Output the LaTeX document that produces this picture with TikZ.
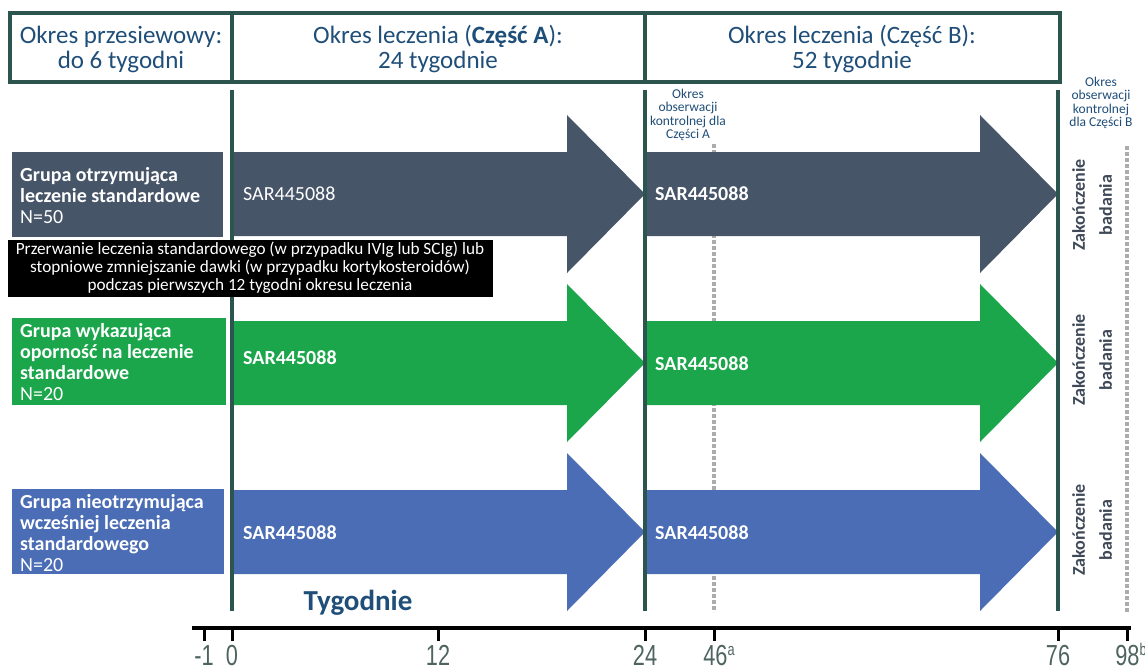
\documentclass[tikz,border=0pt]{standalone}
\usepackage{fontspec}
\setmainfont{Carlito}
\newfontfamily\axisfont[FakeStretch=0.75]{Liberation Sans}
\definecolor{frame}{HTML}{2D5550}
\definecolor{hdtext}{HTML}{1F4E79}
\definecolor{slate}{HTML}{475569}
\definecolor{grn}{HTML}{1BA64B}
\definecolor{blu}{HTML}{4A6DB5}
\definecolor{axtext}{HTML}{4F6460}
\definecolor{endtext}{HTML}{3E4857}
\newcommand{\supnote}[1]{\raisebox{10pt}{\fontsize{17}{17}\selectfont #1}}
\tikzstyle{head} = [text=hdtext, align=center, font=\fontsize{25}{25}\selectfont]
\tikzstyle{grp} = [text=white, align=left, anchor=west, inner sep=0pt, font=\fontsize{20}{21}\selectfont]
\tikzstyle{drug} = [text=white, anchor=west, inner sep=0pt, font=\fontsize{20}{21}\selectfont]
\tikzstyle{obs} = [text=hdtext, align=center, fill=white, inner sep=1pt, font=\fontsize{13.5}{13.5}\selectfont]
\tikzstyle{fin} = [text=endtext, align=center, rotate=90, font=\bfseries\fontsize{18}{27}\selectfont]
\tikzstyle{tick} = [text=axtext, anchor=base, inner sep=0pt, font=\axisfont\fontsize{29}{29}\selectfont]
\tikzstyle{vline} = [frame, line width=4pt]
\tikzstyle{fup} = [gray!65, line width=4pt, dash pattern=on 4pt off 2pt]

\begin{document}
\begin{tikzpicture}[x=1pt, y=-1pt]
  \useasboundingbox (0,0) rectangle (1145,669);

  % header
  \draw [vline] (10,13) rectangle (1060,82);
  \draw [vline] (232,13) -- (232,82);
  \draw [vline] (645,13) -- (645,82);
  \node (h0) at (121,49) [head] {Okres przesiewowy:\\do 6 tygodni};
  \node (h1) at (438,49) [head] {Okres leczenia (\textbf{Część A}):\\24 tygodnie};
  \node (h2) at (852,49) [head] {Okres leczenia (Część B):\\52 tygodnie};

  % follow-up lines
  \draw [fup] (714,138) -- (714,612);
  \draw [fup] (1127,146) -- (1127,612);

  % arrows
  \fill [slate] (232,152) -- (567,152) -- (567,115) -- (645,194) -- (567,273) -- (567,236) -- (232,236) -- cycle;
  \fill [slate] (645,152) -- (980,152) -- (980,115) -- (1058,194) -- (980,273) -- (980,236) -- (645,236) -- cycle;
  \fill [grn] (232,321) -- (567,321) -- (567,284) -- (645,363) -- (567,442) -- (567,405) -- (232,405) -- cycle;
  \fill [grn] (645,321) -- (980,321) -- (980,284) -- (1058,363) -- (980,442) -- (980,405) -- (645,405) -- cycle;
  \fill [blu] (232,490) -- (567,490) -- (567,453) -- (645,532) -- (567,611) -- (567,574) -- (232,574) -- cycle;
  \fill [blu] (645,490) -- (980,490) -- (980,453) -- (1058,532) -- (980,611) -- (980,574) -- (645,574) -- cycle;

  \draw [vline] (232,90) -- (232,611);
  \draw [vline] (645,90) -- (645,611);
  \draw [vline] (1058,90) -- (1058,611);

  % groups
  \fill [slate] (12,152) rectangle (223,237);
  \fill [grn] (12,318) rectangle (226,405);
  \fill [blu] (12,489) rectangle (224,574);
  \node (g1) at (20,196) [grp] {\textbf{Grupa otrzymująca}\\\textbf{leczenie standardowe}\\N=50};
  \node (g2) at (20,362) [grp] {\textbf{Grupa wykazująca}\\\textbf{oporność na leczenie}\\\textbf{standardowe}\\N=20};
  \node (g3) at (20,533) [grp] {\textbf{Grupa nieotrzymująca}\\\textbf{wcześniej leczenia}\\\textbf{standardowego}\\N=20};

  \node (a1) at (243,194) [drug] {SAR445088};
  \node (b1) at (655,194) [drug] {\bfseries SAR445088};
  \node (a2) at (243,358) [drug] {\bfseries SAR445088};
  \node (b2) at (655,364) [drug] {\bfseries SAR445088};
  \node (a3) at (243,533) [drug] {\bfseries SAR445088};
  \node (b3) at (655,533) [drug] {\bfseries SAR445088};

  \node (stop) at (250,268) [fill=black, text=white, align=center, minimum width=485pt, minimum height=57pt, inner sep=0pt, font=\fontsize{17.2}{18}\selectfont] {Przerwanie leczenia standardowego (w przypadku IVIg lub SCIg) lub\\stopniowe zmniejszanie dawki (w przypadku kortykosteroidów)\\podczas pierwszych 12 tygodni okresu leczenia};

  \node (oa) at (688,115) [obs] {Okres\\obserwacji\\kontrolnej dla\\Części A};
  \node (ob) at (1101,103) [obs] {Okres\\obserwacji\\kontrolnej\\dla Części B};

  \node (e1) at (1092,205) [fin] {Zakończenie\\badania};
  \node (e2) at (1092,360) [fin] {Zakończenie\\badania};
  \node (e3) at (1092,530) [fin] {Zakończenie\\badania};

  \node (weeks) at (358,603) [text=hdtext, font=\bfseries\fontsize{29}{29}\selectfont] {Tygodnie};

  % axis
  \draw [line width=4pt] (192,628) -- (1131,628);
  \foreach \x/\l in {204/-1, 232/0, 438/12, 645/24, 1058/76} {
    \draw [line width=3pt] (\x,628) -- (\x,641);
    \node [tick] at (\x,665) {\l};
  }
  \draw [line width=3pt] (714,628) -- (714,641);
  \node (wa) [tick] at (719,665) {46\supnote{a}};
  \draw [line width=3pt] (1127,628) -- (1127,641);
  \node (wb) [tick] at (1131,665) {98\supnote{b}};
\end{tikzpicture}
\end{document}
